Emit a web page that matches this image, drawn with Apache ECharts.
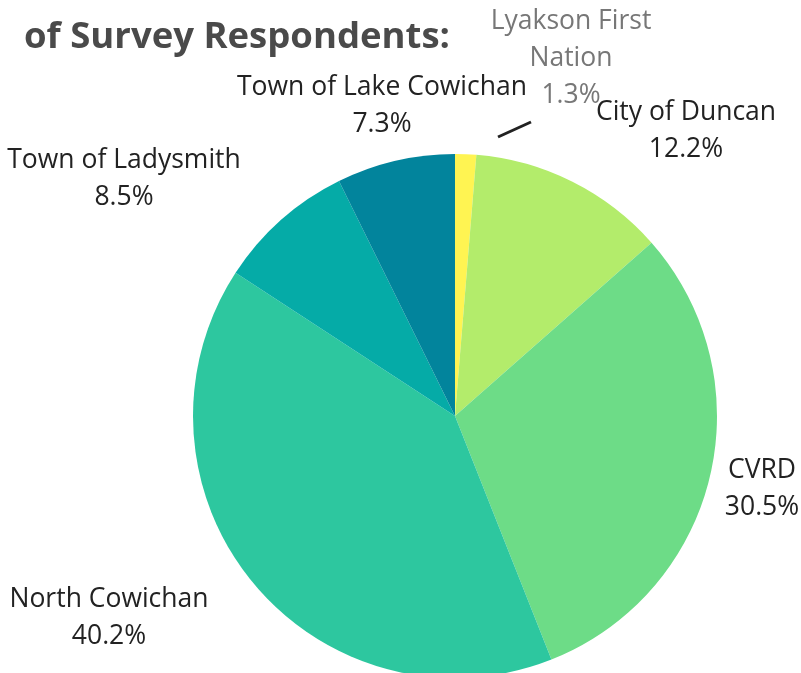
<!DOCTYPE html>
<html><head><meta charset="utf-8">
<script src="https://cdn.jsdelivr.net/npm/echarts@6/dist/echarts.min.js"></script>
<style>html,body{margin:0;padding:0;background:#fff}#c{width:801px;height:673px}</style>
</head><body><div id="c"></div>
<script>
const categories = ['Lyakson First Nation', 'City of Duncan', 'CVRD', 'North Cowichan', 'Town of Ladysmith', 'Town of Lake Cowichan'];
const labelNames = ['Lyakson First\nNation', 'City of Duncan', 'CVRD', 'North Cowichan', 'Town of Ladysmith', 'Town of Lake Cowichan'];
const values = [1.3, 12.2, 30.5, 40.2, 8.5, 7.3];
const colors = ['#fff452', '#b3ec6b', '#6ddc87', '#2dc79f', '#05aba7', '#02849c'];
const titleText = 'of Survey Respondents:';

// label anchor positions (centre of label block)
const labelPos = [[571, 58], [686, 131], [762, 489], [109, 618], [124, 179], [382, 106]];

const chart = echarts.init(document.getElementById('c'));
chart.setOption({
  animation: false,
  title: {
    text: titleText, left: 19, top: 14,
    textStyle: {fontFamily: 'Open Sans', fontWeight: 'bold', fontSize: 36.5, color: '#4a4a4a'}
  },
  series: [{
    type: 'pie',
    center: [455, 416],
    radius: 262,
    startAngle: 90,
    clockwise: true,
    data: categories.map((n, i) => ({
      name: n, value: values[i],
      itemStyle: {color: colors[i]},
      label: {color: i === 0 ? '#777777' : '#222222'},
      labelLine: {show: i === 0}
    })),
    label: {
      show: true, position: 'outside', overflow: 'none',
      formatter: p => labelNames[p.dataIndex] + '\n' + values[p.dataIndex].toFixed(1) + '%',
      fontFamily: 'Open Sans', fontSize: 26.5, lineHeight: 37, align: 'center'
    },
    labelLine: {lineStyle: {color: '#222', width: 3}, length: 10, length2: 10},
    labelLayout: p => {
      const pos = labelPos[p.dataIndex];
      const r = {x: pos[0], y: pos[1], align: 'center', verticalAlign: 'middle', width: 320};
      if (p.dataIndex === 0) r.labelLinePoints = [[498, 137], [531, 122]];
      return r;
    }
  }]
});
</script></body></html>
